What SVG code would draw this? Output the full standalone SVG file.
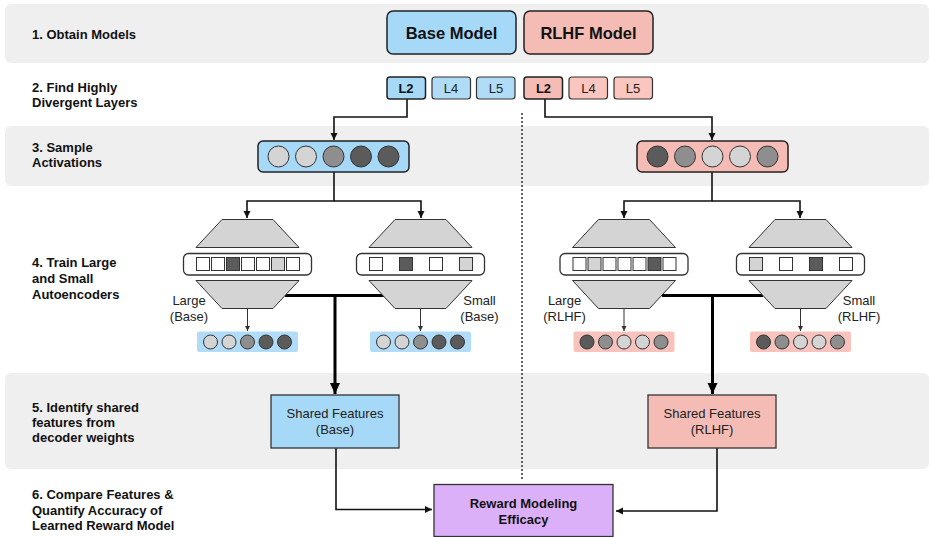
<svg xmlns="http://www.w3.org/2000/svg" width="930" height="537" viewBox="0 0 930 537">
<style>
.band{fill:#efefef}
.step{font-family:"Liberation Sans",Arial,sans-serif;font-size:13px;font-weight:bold;fill:#111}
.lbl{font-family:"Liberation Sans",Arial,sans-serif;font-size:13px;fill:#222;text-anchor:middle}
.bold{font-weight:bold;fill:#111}
.blue{fill:#a6d8f7}
.red{fill:#f5bcb5}
.edge{stroke:#222;stroke-width:1.5}
.trap{fill:#d4d4d4;stroke:#333;stroke-width:1}
.code{fill:#fff;stroke:#333;stroke-width:1.3}
.sq{stroke:#333;stroke-width:1}
.c0{fill:#fff}.c1{fill:#d4d4d4}.c2{fill:#8e8e8e}.c3{fill:#5b5b5b}
.dot{stroke:#333;stroke-width:1}
.conn{fill:none;stroke:#111;stroke-width:1.6}
.thick{fill:none;stroke:#000;stroke-width:3}
.thin{fill:none;stroke:#333;stroke-width:1}
.lgray{fill:#999;font-weight:normal}
</style>
<defs>
<marker id="ah" markerUnits="userSpaceOnUse" markerWidth="8" markerHeight="8" refX="7" refY="3.5" orient="auto"><path d="M0,0 L7,3.5 L0,7 z" fill="#111"/></marker>
<marker id="ahb" markerUnits="userSpaceOnUse" markerWidth="12" markerHeight="11" refX="11" refY="5" orient="auto"><path d="M0,0 L11,5 L0,10 z" fill="#000"/></marker>
<marker id="ahs" markerUnits="userSpaceOnUse" markerWidth="6" markerHeight="6" refX="5" refY="2.5" orient="auto"><path d="M0,0 L5,2.5 L0,5 z" fill="#333"/></marker>
</defs>

<g id="bands">
<rect class="band" x="5" y="4" width="924" height="59" rx="6"/>
<rect class="band" x="5" y="126" width="924" height="60" rx="6"/>
<rect class="band" x="5" y="373" width="924" height="96" rx="6"/>
</g>

<g id="step-labels">
<text class="step" x="32" y="39">1. Obtain Models</text>
<text class="step" x="32" y="92">2. Find Highly</text>
<text class="step" x="32" y="107">Divergent Layers</text>
<text class="step" x="32" y="152">3. Sample</text>
<text class="step" x="32" y="167">Activations</text>
<text class="step" x="32" y="267">4. Train Large</text>
<text class="step" x="32" y="283">and Small</text>
<text class="step" x="32" y="299">Autoencoders</text>
<text class="step" x="32" y="412">5. Identify shared</text>
<text class="step" x="32" y="427">features from</text>
<text class="step" x="32" y="442">decoder weights</text>
<text class="step" x="32" y="499">6. Compare Features &amp;</text>
<text class="step" x="32" y="515">Quantify Accuracy of</text>
<text class="step" x="32" y="530">Learned Reward Model</text>
</g>

<g id="divider">
<line x1="522" y1="113" x2="522" y2="479" stroke="#333" stroke-width="1.5" stroke-dasharray="2 2"/>
</g>

<g id="connectors">
<polyline class="conn" points="407,99 407,117 334,117 334,140" marker-end="url(#ah)"/>
<polyline class="conn" points="545,99 545,117 712,117 712,140" marker-end="url(#ah)"/>
<polyline class="conn" points="334,172 334,201 247,201 247,218" marker-end="url(#ah)"/>
<polyline class="conn" points="334,201 421,201 421,218" marker-end="url(#ah)"/>
<polyline class="conn" points="712,172 712,201 624,201 624,218" marker-end="url(#ah)"/>
<polyline class="conn" points="712,201 800,201 800,218" marker-end="url(#ah)"/>
<line class="thick" x1="285" y1="295.5" x2="385" y2="295.5"/>
<polyline class="thick" points="335,295.5 335,394" marker-end="url(#ahb)"/>
<line class="thick" x1="662" y1="295.5" x2="763" y2="295.5"/>
<polyline class="thick" points="712.5,295.5 712.5,394" marker-end="url(#ahb)"/>
<polyline class="conn" points="336,448 336,509.5 432,509.5" marker-end="url(#ah)"/>
<polyline class="conn" points="717,448 717,511 616,511" marker-end="url(#ah)"/>
</g>

<g id="base-model">
<rect class="blue edge" x="387" y="11" width="129" height="43" rx="6"/>
<text class="lbl bold" x="451.5" y="39" style="font-size:16.5px">Base Model</text>
</g>
<g id="rlhf-model">
<rect class="red edge" x="524" y="11" width="129" height="43" rx="6"/>
<text class="lbl bold" x="588.5" y="39" style="font-size:16.5px">RLHF Model</text>
</g>

<g id="base-layers">
<rect class="blue edge" x="387" y="77" width="38.5" height="22" rx="3"/>
<text class="lbl bold" x="406" y="93">L2</text>
<rect x="432" y="77" width="38.5" height="22" rx="3" fill="#b0dcf8" stroke="#333" stroke-width="1.2"/>
<text class="lbl" x="451" y="93" fill="#888">L4</text>
<rect x="476.5" y="77" width="38.5" height="22" rx="3" fill="#b0dcf8" stroke="#333" stroke-width="1.2"/>
<text class="lbl" x="496" y="93" fill="#888">L5</text>
</g>
<g id="rlhf-layers">
<rect class="red edge" x="524" y="77" width="38.5" height="22" rx="3"/>
<text class="lbl bold" x="543.5" y="93">L2</text>
<rect x="569" y="77" width="38.5" height="22" rx="3" fill="#fbc6c0" stroke="#333" stroke-width="1.2"/>
<text class="lbl" x="588.5" y="93" fill="#888">L4</text>
<rect x="614" y="77" width="38.5" height="22" rx="3" fill="#fbc6c0" stroke="#333" stroke-width="1.2"/>
<text class="lbl" x="633" y="93" fill="#888">L5</text>
</g>

<g id="base-activations">
<rect class="blue edge" x="258" y="141" width="151" height="31" rx="5"/>
<circle class="c1 dot" cx="278.5" cy="156.5" r="10.5"/>
<circle class="c1 dot" cx="306" cy="156.5" r="10.5"/>
<circle class="c2 dot" cx="333.5" cy="156.5" r="10.5"/>
<circle class="c3 dot" cx="361" cy="156.5" r="10.5"/>
<circle class="c3 dot" cx="388.5" cy="156.5" r="10.5"/>
</g>
<g id="rlhf-activations">
<rect class="red edge" x="637" y="141" width="151" height="31" rx="5"/>
<circle class="c3 dot" cx="657.5" cy="156.5" r="10.5"/>
<circle class="c2 dot" cx="685" cy="156.5" r="10.5"/>
<circle class="c1 dot" cx="712.5" cy="156.5" r="10.5"/>
<circle class="c1 dot" cx="740" cy="156.5" r="10.5"/>
<circle class="c2 dot" cx="767.5" cy="156.5" r="10.5"/>
</g>

<g id="ae-large-base" transform="translate(247.5,0)">
<polygon class="trap" points="-25.5,219.5 25.5,219.5 51.5,247.5 -51.5,247.5"/>
<rect class="code" x="-64" y="253.5" width="128" height="21.5" rx="5"/>
<rect class="sq c0" x="-51" y="257.5" width="13" height="13"/>
<rect class="sq c0" x="-36" y="257.5" width="13" height="13"/>
<rect class="sq c3" x="-21" y="257.5" width="13" height="13"/>
<rect class="sq c0" x="-6" y="257.5" width="13" height="13"/>
<rect class="sq c0" x="9" y="257.5" width="13" height="13"/>
<rect class="sq c1" x="24" y="257.5" width="13" height="13"/>
<rect class="sq c0" x="39" y="257.5" width="13" height="13"/>
<polygon class="trap" points="-51.5,280.5 51.5,280.5 25.5,308.5 -25.5,308.5"/>
<line class="thin" x1="0" y1="308.5" x2="0" y2="331" marker-end="url(#ahs)"/>
<rect x="-50.5" y="331.5" width="101" height="20.5" rx="2" fill="#b0dcf8"/>
<circle class="c1 dot" cx="-37" cy="342" r="7"/>
<circle class="c1 dot" cx="-18.5" cy="342" r="7"/>
<circle class="c2 dot" cx="0" cy="342" r="7"/>
<circle class="c3 dot" cx="18.5" cy="342" r="7"/>
<circle class="c3 dot" cx="37" cy="342" r="7"/>
<text class="lbl" x="-58.5" y="305">Large</text>
<text class="lbl" x="-58.5" y="321">(Base)</text>
</g>

<g id="ae-small-base" transform="translate(420.5,0)">
<polygon class="trap" points="-25.5,219.5 25.5,219.5 51.5,247.5 -51.5,247.5"/>
<rect class="code" x="-64" y="253.5" width="128" height="21.5" rx="5"/>
<rect class="sq c0" x="-51" y="257.5" width="13" height="13"/>
<rect class="sq c3" x="-21" y="257.5" width="13" height="13"/>
<rect class="sq c0" x="9" y="257.5" width="13" height="13"/>
<rect class="sq c1" x="39" y="257.5" width="13" height="13"/>
<polygon class="trap" points="-51.5,280.5 51.5,280.5 25.5,308.5 -25.5,308.5"/>
<line class="thin" x1="0" y1="308.5" x2="0" y2="331" marker-end="url(#ahs)"/>
<rect x="-50.5" y="331.5" width="101" height="20.5" rx="2" fill="#b0dcf8"/>
<circle class="c1 dot" cx="-37" cy="342" r="7"/>
<circle class="c1 dot" cx="-18.5" cy="342" r="7"/>
<circle class="c2 dot" cx="0" cy="342" r="7"/>
<circle class="c3 dot" cx="18.5" cy="342" r="7"/>
<circle class="c3 dot" cx="37" cy="342" r="7"/>
<text class="lbl" x="59" y="305">Small</text>
<text class="lbl" x="59" y="321">(Base)</text>
</g>

<g id="ae-large-rlhf" transform="translate(624,0)">
<polygon class="trap" points="-25.5,219.5 25.5,219.5 51.5,247.5 -51.5,247.5"/>
<rect class="code" x="-64" y="253.5" width="128" height="21.5" rx="5"/>
<rect class="sq c0" x="-51" y="257.5" width="13" height="13"/>
<rect class="sq c1" x="-36" y="257.5" width="13" height="13"/>
<rect class="sq c0" x="-21" y="257.5" width="13" height="13"/>
<rect class="sq c0" x="-6" y="257.5" width="13" height="13"/>
<rect class="sq c0" x="9" y="257.5" width="13" height="13"/>
<rect class="sq c3" x="24" y="257.5" width="13" height="13"/>
<rect class="sq c0" x="39" y="257.5" width="13" height="13"/>
<polygon class="trap" points="-51.5,280.5 51.5,280.5 25.5,308.5 -25.5,308.5"/>
<line class="thin" x1="0" y1="308.5" x2="0" y2="331" marker-end="url(#ahs)"/>
<rect x="-50.5" y="331.5" width="101" height="20.5" rx="2" fill="#f8c3bd"/>
<circle class="c3 dot" cx="-37" cy="342" r="7"/>
<circle class="c2 dot" cx="-18.5" cy="342" r="7"/>
<circle class="c1 dot" cx="0" cy="342" r="7"/>
<circle class="c1 dot" cx="18.5" cy="342" r="7"/>
<circle class="c2 dot" cx="37" cy="342" r="7"/>
<text class="lbl" x="-59.5" y="305">Large</text>
<text class="lbl" x="-59.5" y="321">(RLHF)</text>
</g>

<g id="ae-small-rlhf" transform="translate(800.5,0)">
<polygon class="trap" points="-25.5,219.5 25.5,219.5 51.5,247.5 -51.5,247.5"/>
<rect class="code" x="-64" y="253.5" width="128" height="21.5" rx="5"/>
<rect class="sq c1" x="-51" y="257.5" width="13" height="13"/>
<rect class="sq c0" x="-21" y="257.5" width="13" height="13"/>
<rect class="sq c3" x="9" y="257.5" width="13" height="13"/>
<rect class="sq c0" x="39" y="257.5" width="13" height="13"/>
<polygon class="trap" points="-51.5,280.5 51.5,280.5 25.5,308.5 -25.5,308.5"/>
<line class="thin" x1="0" y1="308.5" x2="0" y2="331" marker-end="url(#ahs)"/>
<rect x="-50.5" y="331.5" width="101" height="20.5" rx="2" fill="#f8c3bd"/>
<circle class="c3 dot" cx="-37" cy="342" r="7"/>
<circle class="c2 dot" cx="-18.5" cy="342" r="7"/>
<circle class="c1 dot" cx="0" cy="342" r="7"/>
<circle class="c1 dot" cx="18.5" cy="342" r="7"/>
<circle class="c2 dot" cx="37" cy="342" r="7"/>
<text class="lbl" x="58.5" y="305">Small</text>
<text class="lbl" x="58.5" y="321">(RLHF)</text>
</g>

<g id="shared-base">
<rect class="blue" x="271" y="395" width="128" height="53" stroke="#333" stroke-width="1.3"/>
<text class="lbl" x="335" y="417.5">Shared Features</text>
<text class="lbl" x="335" y="434">(Base)</text>
</g>
<g id="shared-rlhf">
<rect class="red" x="648" y="395" width="128" height="53" stroke="#333" stroke-width="1.3"/>
<text class="lbl" x="712" y="417.5">Shared Features</text>
<text class="lbl" x="712" y="434">(RLHF)</text>
</g>

<g id="reward">
<rect x="434" y="484.5" width="179" height="52" fill="#dcb0f8" stroke="#333" stroke-width="1.3"/>
<text class="lbl bold" x="523.5" y="507.5">Reward Modeling</text>
<text class="lbl bold" x="523.5" y="523.5">Efficacy</text>
</g>
</svg>
